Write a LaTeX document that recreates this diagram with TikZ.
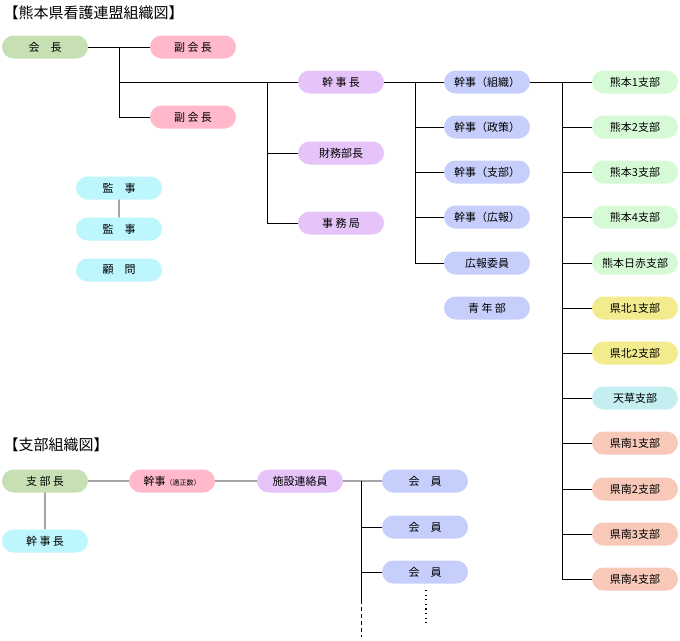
\documentclass[tikz,border=0pt]{standalone}
\usepackage{fontspec}
\setmainfont{Noto Sans CJK JP}
\definecolor{cgreen}{HTML}{C6E0B4}
\definecolor{cpink}{HTML}{FFB9CB}
\definecolor{cpurple}{HTML}{E6C4FA}
\definecolor{ccyan}{HTML}{BDF6FC}
\definecolor{cblue}{HTML}{C6CEFB}
\definecolor{clgreen}{HTML}{D6FAD6}
\definecolor{cyellow}{HTML}{F2EC8E}
\definecolor{clcyan}{HTML}{C4EEF0}
\definecolor{csalmon}{HTML}{F8C9B9}
\begin{document}
\begin{tikzpicture}[x=1pt,y=-1pt,
  box/.style={rounded rectangle, minimum width=86pt, minimum height=23pt, inner sep=0pt, font=\fontsize{11}{13}\selectfont},
  ln/.style={line width=0.8pt}]
\usetikzlibrary{shapes.misc}
\useasboundingbox (0,0) rectangle (680,640);
\node[anchor=west,font=\fontsize{15}{17}\selectfont] (t1) at (0,13) {【熊本県看護連盟組織図】};
\node[anchor=west,font=\fontsize{15}{17}\selectfont] (t2) at (0,445) {【支部組織図】};
\node[box,fill=cgreen] (kaicho) at (45,47) {会\quad 長};
\node[box,fill=cpink] (fuku1) at (193,47) {副 会 長};
\node[box,fill=cpink] (fuku2) at (193,117) {副 会 長};
\node[box,fill=cpurple] (kanjicho) at (341,82) {幹 事 長};
\node[box,fill=cpurple] (zaimu) at (341,153) {財務部長};
\node[box,fill=cpurple] (jimu) at (341,223) {事 務 局};
\node[box,fill=ccyan] (kan1) at (119,188) {監\quad 事};
\node[box,fill=ccyan] (kan2) at (119,229) {監\quad 事};
\node[box,fill=ccyan] (komon) at (119,270) {顧\quad 問};
\node[box,fill=cblue] (k1) at (487,82) {幹事（組織）};
\node[box,fill=cblue] (k2) at (487,127) {幹事（政策）};
\node[box,fill=cblue] (k3) at (487,172) {幹事（支部）};
\node[box,fill=cblue] (k4) at (487,217) {幹事（広報）};
\node[box,fill=cblue] (k5) at (487,263) {広報委員};
\node[box,fill=cblue] (k6) at (487,308) {青 年 部};
\foreach \i/\t/\c/\y in {1/熊本1支部/clgreen/82,2/熊本2支部/clgreen/127,3/熊本3支部/clgreen/172,4/熊本4支部/clgreen/217,5/熊本日赤支部/clgreen/263,6/県北1支部/cyellow/308,7/県北2支部/cyellow/353,8/天草支部/clcyan/398,9/県南1支部/csalmon/443,10/県南2支部/csalmon/489,11/県南3支部/csalmon/534,12/県南4支部/csalmon/579}
  \node[box,fill=\c] (b\i) at (635,\y) {\t};
\draw[ln] (kaicho.east) -- (fuku1.west);
\draw[ln] (119,47) |- (fuku2.west);
\draw[ln] (119,82) -- (kanjicho.west);
\draw[ln] (267,82) |- (jimu.west);
\draw[ln] (267,153) -- (zaimu.west);
\draw[ln] (kanjicho.east) -- (k1.west);
\draw[ln] (415,82) |- (k5.west);
\foreach \i in {2,3,4} \draw[ln] (415,0 |- k\i.west) -- (k\i.west);
\draw[ln] (k1.east) -- (b1.west);
\draw[ln] (562,82) |- (b12.west);
\foreach \i in {2,...,11} \draw[ln] (562,0 |- b\i.west) -- (b\i.west);
\draw[ln] (kan1) -- (kan2);
% branch chart
\node[box,fill=cgreen] (shibu) at (45,481) {支 部 長};
\node[box,fill=ccyan] (skan) at (45,541) {幹 事 長};
\node[box,fill=cpink] (tekisei) at (172,481) {幹事{\fontsize{7}{8}\selectfont（適正数）}};
\node[box,fill=cpurple] (shisetsu) at (300,481) {施設連絡員};
\node[box,fill=cblue] (m1) at (425,481) {会\quad 員};
\node[box,fill=cblue] (m2) at (425,527) {会\quad 員};
\node[box,fill=cblue] (m3) at (425,572) {会\quad 員};
\draw[ln] (shibu) -- (skan);
\draw[ln] (shibu) -- (tekisei);
\draw[ln] (tekisei) -- (shisetsu);
\draw[ln] (shisetsu) -- (m1);
\draw[ln] (361,481) -- (361,600);
\draw[ln] (361,0 |- m2.west) -- (m2.west);
\draw[ln] (361,0 |- m3.west) -- (m3.west);
\draw[ln,dash pattern=on 4pt off 3pt] (361,600) -- (361,637);
\draw[line width=1.2pt,dash pattern=on 1.2pt off 3.4pt] (426,590) -- (426,626);
\end{tikzpicture}
\end{document}
